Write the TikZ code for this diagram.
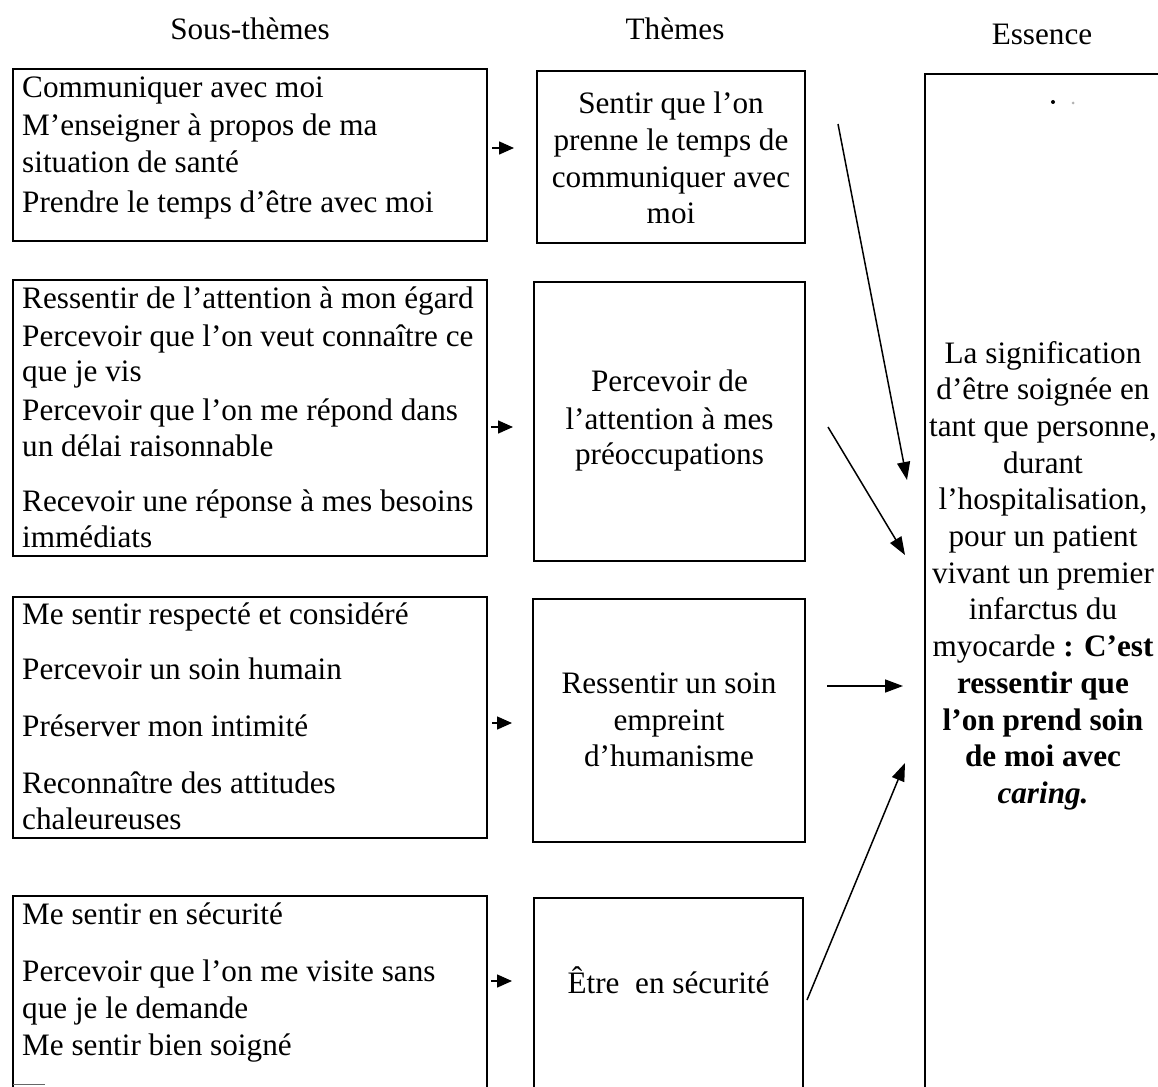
\documentclass[tikz,border=0pt]{standalone}
\usepackage{fontspec}
\setmainfont{Liberation Serif}
\usetikzlibrary{arrows.meta}
\newcommand\bodyfont{\fontsize{31.2}{37}\selectfont}
\begin{document}
\begin{tikzpicture}[x=1pt,y=-1pt,
  box/.style={draw, line width=1.5pt, inner sep=0pt, outer sep=0pt},
  ln/.style={anchor=base west, inner sep=0pt, font=\bodyfont},
  cl/.style={anchor=base, inner sep=0pt, font=\bodyfont},
  hd/.style={anchor=base, inner sep=0pt, font=\bodyfont},
  smallarr/.style={line width=1.5pt, -{Triangle[length=15pt,width=13pt]}},
  bigarr/.style={line width=1.5pt, -{Triangle[length=18pt,width=13pt]}}]
\useasboundingbox (0,0) rectangle (1158,1086);
\clip (0,0) rectangle (1158,1086);
\fill[white] (0,0) rectangle (1158,1086);

% headers
\node[hd] (h1) at (250,40) {Sous-thèmes};
\node[hd] (h2) at (675,40) {Thèmes};
\node[hd] (h3) at (1042,45) {Essence};

% boxes
\node[box, minimum width=474pt, minimum height=172pt] (a1) at (250,155) {};
\node[box, minimum width=268pt, minimum height=172pt] (t1) at (671,157) {};
\node[box, minimum width=474pt, minimum height=276pt] (a2) at (250,418) {};
\node[box, minimum width=271pt, minimum height=279pt] (t2) at (669.5,421.5) {};
\node[box, minimum width=474pt, minimum height=241pt] (a3) at (250,717.5) {};
\node[box, minimum width=272pt, minimum height=243pt] (t3) at (669,720.5) {};
\node[box, minimum width=474pt, minimum height=228pt] (a4) at (250,1010) {};
\node[box, minimum width=269pt, minimum height=226pt] (t4) at (668.5,1011) {};
\node[box, minimum width=245pt, minimum height=1052pt] (es) at (1047.5,600) {};

% sub-theme texts
\node[ln] (a1l1) at (22,98) {Communiquer avec moi};
\node[ln] (a1l2) at (22,136) {M’enseigner à propos de ma};
\node[ln] (a1l3) at (22,172) {situation de santé};
\node[ln] (a1l4) at (22,212) {Prendre le temps d’être avec moi};

\node[ln] (a2l1) at (22,308) {Ressentir de l’attention à mon égard};
\node[ln] (a2l2) at (22,346) {Percevoir que l’on veut connaître ce};
\node[ln] (a2l3) at (22,381) {que je vis};
\node[ln] (a2l4) at (22,420) {Percevoir que l’on me répond dans};
\node[ln] (a2l5) at (22,456) {un délai raisonnable};
\node[ln] (a2l6) at (22,511) {Recevoir une réponse à mes besoins};
\node[ln] (a2l7) at (22,547) {immédiats};

\node[ln] (a3l1) at (22,624) {Me sentir respecté et considéré};
\node[ln] (a3l2) at (22,679) {Percevoir un soin humain};
\node[ln] (a3l3) at (22,736) {Préserver mon intimité};
\node[ln] (a3l4) at (22,793) {Reconnaître des attitudes};
\node[ln] (a3l5) at (22,829) {chaleureuses};

\node[ln] (a4l1) at (22,924) {Me sentir en sécurité};
\node[ln] (a4l2) at (22,981) {Percevoir que l’on me visite sans};
\node[ln] (a4l3) at (22,1018) {que je le demande};
\node[ln] (a4l4) at (22,1055) {Me sentir bien soigné};

% theme texts
\node[cl] (t1l1) at (671,114) {Sentir que l’on};
\node[cl] (t1l2) at (671,150.5) {prenne le temps de};
\node[cl] (t1l3) at (671,187) {communiquer avec};
\node[cl] (t1l4) at (671,223.5) {moi};

\node[cl] (t2l1) at (669.5,391) {Percevoir de};
\node[cl] (t2l2) at (669.5,429) {l’attention à mes};
\node[cl] (t2l3) at (669.5,464) {préoccupations};

\node[cl] (t3l1) at (669,693) {Ressentir un soin};
\node[cl] (t3l2) at (669,730) {empreint};
\node[cl] (t3l3) at (669,766) {d’humanisme};

\node[cl] (t4l1) at (668.5,993) {Être\ \ en sécurité};

% essence text
\node[cl] (e1) at (1043,363) {La signification};
\node[cl] (e2) at (1043,399.7) {d’être soignée en};
\node[cl] (e3) at (1043,436.4) {tant que personne,};
\node[cl] (e4) at (1043,473.1) {durant};
\node[cl] (e5) at (1043,509.8) {l’hospitalisation,};
\node[cl] (e6) at (1043,546.5) {pour un patient};
\node[cl] (e7) at (1043,583.2) {vivant un premier};
\node[cl] (e8) at (1043,619.9) {infarctus du};
\node[cl] (e9) at (1043,656.6) {myocarde \textbf{: C’est}};
\node[cl] (e10) at (1043,693.3) {\textbf{ressentir que}};
\node[cl] (e11) at (1043,730) {\textbf{l’on prend soin}};
\node[cl] (e12) at (1043,766.7) {\textbf{de moi avec}};
\node[cl] (e13) at (1043,803.4) {\textbf{\textit{caring.}}};

% specks
\fill[black] (1053,102) circle (2pt);
\fill[black!30] (1073,103) circle (1.5pt);
\draw[line width=1pt, black!60] (13,1084) -- (45,1084);

% small arrows
\draw[smallarr, shorten <=5pt, shorten >=23pt] (a1.east |- 0,148) -- (t1.west |- 0,148);
\draw[smallarr, shorten <=4pt, shorten >=21pt] (a2.east |- 0,427) -- (t2.west |- 0,427);
\draw[smallarr, shorten <=5pt, shorten >=21pt] (a3.east |- 0,723) -- (t3.west |- 0,723);
\draw[smallarr, shorten <=4pt, shorten >=22pt] (a4.east |- 0,981) -- (t4.west |- 0,981);

% long arrows
\coordinate (p1) at (838,124);
\coordinate (q1) at (907,480);
\coordinate (p2) at (828,427);
\coordinate (q2) at (905,555);
\coordinate (q4) at (905,763);
\coordinate (p4) at (807,1000);
\draw[bigarr] (p1) -- (q1);
\draw[bigarr] (p2) -- (q2);
\draw[bigarr, shorten <=22pt, shorten >=22pt] (t3.east |- 0,686) -- (es.west |- 0,686);
\draw[bigarr] (p4) -- (q4);
\end{tikzpicture}
\end{document}
